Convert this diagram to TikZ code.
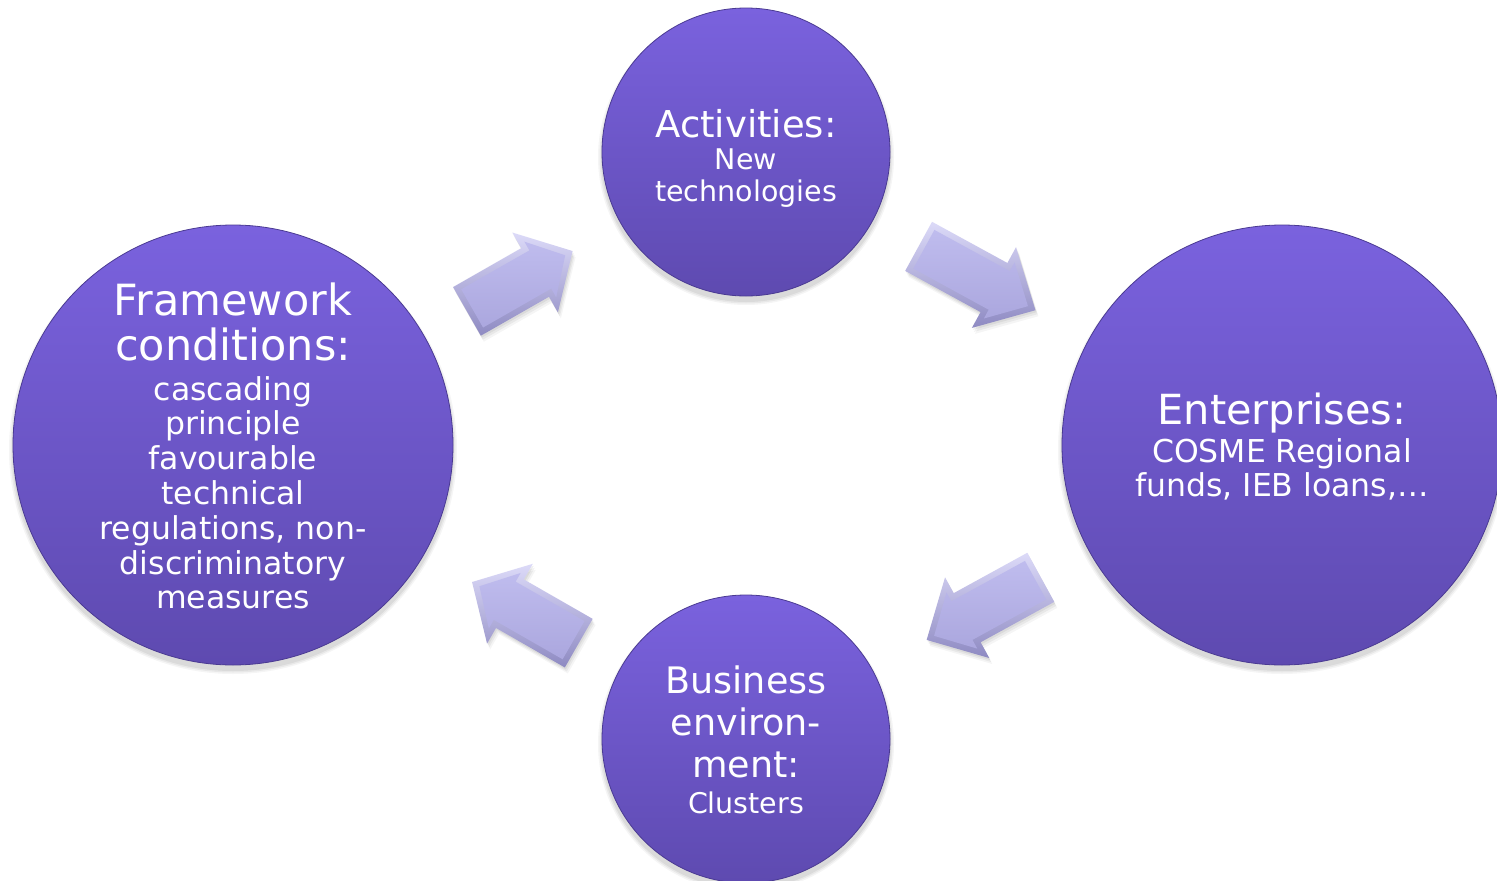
\documentclass[tikz,border=0pt]{standalone}
\usepackage{fontspec}
\setmainfont{DejaVu Sans}
\usetikzlibrary{calc}
\definecolor{circtop}{HTML}{7A62DE}
\definecolor{circbot}{HTML}{5E4AB0}
\definecolor{circrim}{HTML}{4A3A92}
\definecolor{arrlight}{HTML}{DCDAF8}
\definecolor{arrdark}{HTML}{8E8AC2}
\definecolor{arrfacetop}{HTML}{BFBCEE}
\definecolor{arrfacebot}{HTML}{ABA7DE}
\tikzset{
  bubble/.style={circle, inner sep=0pt, shading=axis, top color=circtop, bottom color=circbot, draw=circrim, line width=0.8pt},
  lbl/.style={text=white, align=center, inner sep=0pt},
}
\newcommand{\arrouter}[3]{\path[#1] ($(#2)!28pt!90:(#3)$) -- ($(#2)!0.645!(#3)!28pt!90:(#3)$) -- ($(#2)!0.645!(#3)!46pt!90:(#3)$) -- (#3) -- ($(#2)!0.645!(#3)!46pt!-90:(#3)$) -- ($(#2)!0.645!(#3)!28pt!-90:(#3)$) -- ($(#2)!28pt!-90:(#3)$) -- cycle;}
\newcommand{\arrinner}[3]{\path[#1] ($(#2)!6pt!(#3)!22pt!90:(#3)$) -- ($(#2)!0.645!(#3)!6pt!(#3)!22pt!90:(#3)$) -- ($(#2)!0.645!(#3)!6pt!(#3)!32pt!90:(#3)$) -- ($(#3)!8.5pt!(#2)$) -- ($(#2)!0.645!(#3)!6pt!(#3)!32pt!-90:(#3)$) -- ($(#2)!0.645!(#3)!6pt!(#3)!22pt!-90:(#3)$) -- ($(#2)!6pt!(#3)!22pt!-90:(#3)$) -- cycle;}
\newcommand{\blockarr}[2]{%
  \foreach \sx/\sy/\op in {3/-6/0.04, 2/-4/0.05, 1/-2/0.06}{%
    \arrouter{fill=black, opacity=\op, transform canvas={shift={(\sx pt,\sy pt)}}}{#1}{#2}}
  \arrouter{top color=arrlight, bottom color=arrdark}{#1}{#2}
  \arrinner{top color=arrfacetop, bottom color=arrfacebot}{#1}{#2}
}
\newcommand{\circshadow}[2]{%
  \foreach \d/\op in {4/0.04, 2.5/0.05, 1/0.06}{%
    \fill[black, opacity=\op] ($(#1)+(0,5)$) circle ({#2+\d});}
}
\begin{document}
\begin{tikzpicture}[x=1pt, y=-1pt]
\useasboundingbox[fill=white] (0,0) rectangle (1497,881);
% centres
\coordinate (fwc) at (233,445);
\coordinate (actc) at (746,152);
\coordinate (entc) at (1282,445);
\coordinate (busc) at (746,739);
% shadows
\circshadow{fwc}{220}
\circshadow{actc}{144}
\circshadow{entc}{220}
\circshadow{busc}{144}
% circles
\node[bubble, minimum size=440pt] (fw) at (fwc) {};
\node[bubble, minimum size=288pt] (act) at (actc) {};
\node[bubble, minimum size=440pt] (ent) at (entc) {};
\node[bubble, minimum size=288pt] (bus) at (busc) {};
% texts
\node[lbl, font=\fontsize{31.5}{34.8}\selectfont] (fwt) at ($(fw.center)+(0,1)$)
  {{\fontsize{43}{45}\selectfont Framework}\\[10pt]{\fontsize{43}{45}\selectfont conditions:}\\[5pt]cascading\\principle\\favourable\\technical\\regulations, non-\\discriminatory\\measures};
\node[lbl, font=\fontsize{28.5}{32}\selectfont] (actt) at ($(act.center)+(0,6.5)$)
  {{\fontsize{37}{40}\selectfont Activities:}\\New\\technologies};
\node[lbl, font=\fontsize{31.5}{34}\selectfont] (entt) at ($(ent.center)+(0,2)$)
  {{\fontsize{41.5}{44}\selectfont Enterprises:}\\[4pt]COSME Regional\\funds, IEB loans,…};
\node[lbl, font=\fontsize{28.5}{36}\selectfont] (bust) at ($(bus.center)+(0,1)$)
  {{\fontsize{36.5}{40}\selectfont Business}\\[6pt]{\fontsize{36.5}{40}\selectfont environ-}\\[6pt]{\fontsize{36.5}{40}\selectfont ment:}\\Clusters};
% arrow end points along the centre lines
\coordinate (a1s) at ($(fw.center)!0.456!(act.center)$);
\coordinate (a1e) at ($(fw.center)!0.662!(act.center)$);
\coordinate (a2s) at ($(act.center)!0.322!(ent.center)$);
\coordinate (a2e) at ($(act.center)!0.540!(ent.center)$);
\coordinate (a3s) at ($(ent.center)!0.450!(bus.center)$);
\coordinate (a3e) at ($(ent.center)!0.663!(bus.center)$);
\coordinate (a4s) at ($(bus.center)!0.326!(fw.center)$);
\coordinate (a4e) at ($(bus.center)!0.534!(fw.center)$);
\blockarr{a1s}{a1e}
\blockarr{a2s}{a2e}
\blockarr{a3s}{a3e}
\blockarr{a4s}{a4e}
\end{tikzpicture}
\end{document}
